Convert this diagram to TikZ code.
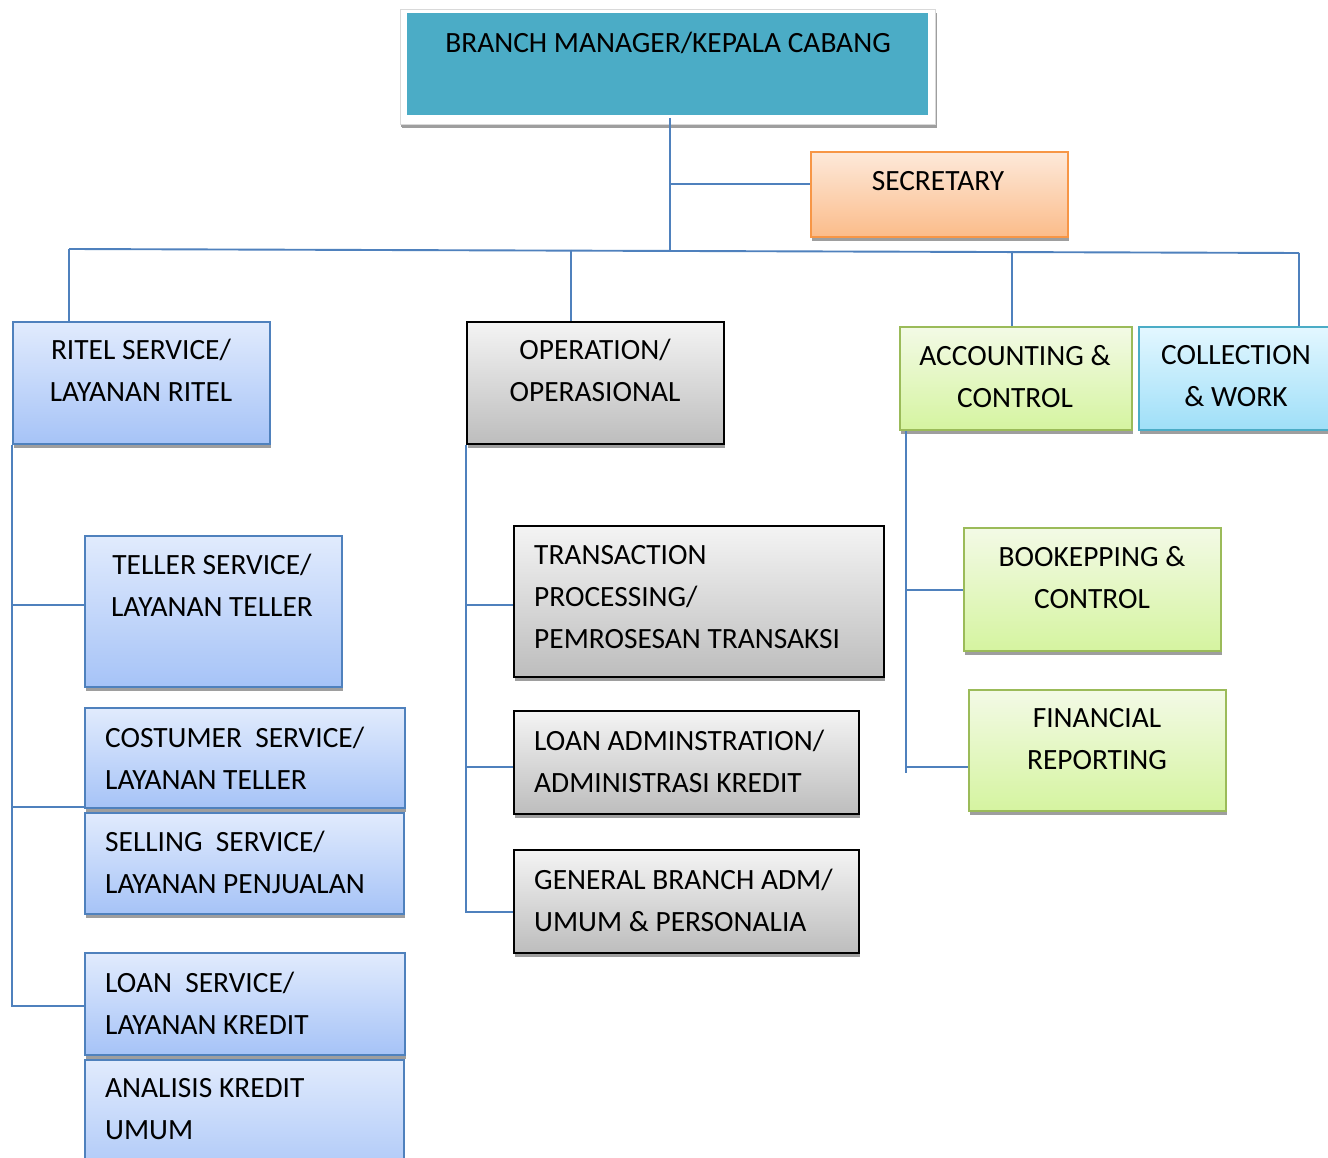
\documentclass[tikz,border=0pt]{standalone}
\usepackage{fontspec}
\setmainfont{Carlito}
\usetikzlibrary{shadows}
\definecolor{lineblue}{HTML}{4F81BD}
\definecolor{teal1}{HTML}{4BACC6}
\definecolor{blueTop}{HTML}{E1EBFD}
\definecolor{blueBot}{HTML}{A6C3F7}
\definecolor{blueBd}{HTML}{4F81BD}
\definecolor{grayTop}{HTML}{F4F4F4}
\definecolor{grayBot}{HTML}{BDBDBD}
\definecolor{greenTop}{HTML}{F3FAE6}
\definecolor{greenBot}{HTML}{D5F4A0}
\definecolor{greenBd}{HTML}{9BBB59}
\definecolor{cyanTop}{HTML}{E3F7FF}
\definecolor{cyanBot}{HTML}{9FDFF8}
\definecolor{cyanBd}{HTML}{4BACC6}
\definecolor{orTop}{HTML}{FDE9DA}
\definecolor{orBot}{HTML}{FBBC8A}
\definecolor{orBd}{HTML}{F79646}
\definecolor{shad}{HTML}{9E9E9E}
\tikzset{
  base/.style={rectangle, inner sep=0pt, anchor=north west, line width=1.6pt,
    general shadow={fill=shad, shadow xshift=1pt, shadow yshift=-4pt}},
  bluebox/.style={base, draw=blueBd, top color=blueTop, bottom color=blueBot},
  graybox/.style={base, draw=black, top color=grayTop, bottom color=grayBot},
  greenbox/.style={base, draw=greenBd, top color=greenTop, bottom color=greenBot},
  cyanbox/.style={base, draw=cyanBd, top color=cyanTop, bottom color=cyanBot},
  orbox/.style={base, draw=orBd, top color=orTop, bottom color=orBot},
  conn/.style={draw=lineblue, line width=1.9pt},
  txt/.style={inner sep=0pt, font=\fontsize{29.4}{42}\selectfont, align=center, anchor=north},
  ltxt/.style={inner sep=0pt, font=\fontsize{29.4}{42}\selectfont, align=left, anchor=north west},
}
\newcommand\bx[6]{\node[#1, minimum width=#4pt-#2pt, minimum height=#5pt-#3pt] (#6) at (#2,#3) {};}
\begin{document}
\begin{tikzpicture}[x=1pt,y=-1pt]
\clip (0,0) rectangle (1328,1158);
\fill[white] (0,0) rectangle (1328,1158);
% top
\node[base, draw=black!15, fill=white, line width=1pt, general shadow={fill=shad, shadow xshift=0pt, shadow yshift=-3pt},
  minimum width=535pt, minimum height=115pt] (bmframe) at (400,9) {};
\node[rectangle, inner sep=0pt, anchor=north west, fill=teal1, minimum width=521pt, minimum height=102pt] (bm) at (407,13) {};
\bx{orbox}{810}{151}{1067}{236}{sec}
% level 1
\bx{bluebox}{12}{321}{269}{443}{ritel}
\bx{graybox}{466}{321}{723}{443}{op}
\bx{greenbox}{899}{326}{1131}{429}{acc}
\bx{cyanbox}{1138}{326}{1340}{429}{col}
% blue column
\bx{bluebox}{84}{535}{341}{686}{teller}
\bx{bluebox}{84}{707}{404}{807}{cust}
\bx{bluebox}{84}{812}{403}{913}{sell}
\bx{bluebox}{84}{952}{404}{1054}{loans}
\bx{bluebox}{84}{1059}{403}{1190}{anal}
% gray column
\bx{graybox}{513}{525}{883}{676}{trans}
\bx{graybox}{513}{710}{858}{813}{ladm}
\bx{graybox}{513}{849}{858}{952}{gen}
% green column
\bx{greenbox}{963}{527}{1220}{650}{book}
\bx{greenbox}{968}{689}{1225}{810}{fin}
% texts
\node[txt] (bmT) at (668,32) {BRANCH MANAGER/KEPALA CABANG};
\node[txt] (secT) at (938,171) {SECRETARY};
\node[txt] (ritelT) at (141,339) {RITEL SERVICE/\\LAYANAN RITEL};
\node[txt] (opT) at (595,339) {OPERATION/\\OPERASIONAL};
\node[txt] (accT) at (1015,345) {ACCOUNTING \&\\CONTROL};
\node[txt] (colT) at (1236,345) {COLLECTION\\\& WORK};
\node[txt] (tellerT) at (212,554) {TELLER SERVICE/\\LAYANAN TELLER};
\node[ltxt] (custT) at (105,727) {COSTUMER\ \ SERVICE/\\LAYANAN TELLER};
\node[ltxt] (sellT) at (105,831) {SELLING\ \ SERVICE/\\LAYANAN PENJUALAN};
\node[ltxt] (loansT) at (105,972) {LOAN\ \ SERVICE/\\LAYANAN KREDIT};
\node[ltxt] (analT) at (105,1078) {ANALISIS KREDIT\\UMUM};
\node[ltxt] (transT) at (534,545) {TRANSACTION\\PROCESSING/\\PEMROSESAN TRANSAKSI};
\node[ltxt] (ladmT) at (534,730) {LOAN ADMINSTRATION/\\ADMINISTRASI KREDIT};
\node[ltxt] (genT) at (534,869) {GENERAL BRANCH ADM/\\UMUM \& PERSONALIA};
\node[txt] (bookT) at (1092,546) {BOOKEPPING \&\\CONTROL};
\node[txt] (finT) at (1097,708) {FINANCIAL\\REPORTING};
% junction coordinates
\coordinate (jv) at (670,118);
\coordinate (jsec) at (670,184);
\coordinate (jbus) at (670,251);
\coordinate (busL) at (69,249);
\coordinate (busR) at (1299,253);
\coordinate (bop) at (571,250);
\coordinate (bacc) at (1012,251);
\coordinate (lt1) at (12,605);
\coordinate (lt2) at (12,807);
\coordinate (lt3) at (12,1006);
\coordinate (ot1) at (466,605);
\coordinate (ot2) at (466,767);
\coordinate (ot3) at (466,912);
\coordinate (at1) at (906,590);
\coordinate (at2) at (906,767);
\coordinate (atEnd) at (906,773);
% connectors
\draw[conn] (jv) -- (jbus);
\draw[conn] (jsec) -- (sec.west |- jsec);
\draw[conn] (busL) -- (busR);
\draw[conn] (busL) -- (ritel.north -| busL);
\draw[conn] (bop) -- (op.north -| bop);
\draw[conn] (bacc) -- (acc.north -| bacc);
\draw[conn] (busR) -- (col.north -| busR);
\draw[conn] (ritel.south west) -- (lt3) -- (lt3 -| loans.west);
\draw[conn] (lt1) -- (lt1 -| teller.west);
\draw[conn] (lt2) -- (lt2 -| cust.west);
\draw[conn] (op.south west) -- (ot3) -- (ot3 -| gen.west);
\draw[conn] (ot1) -- (ot1 -| trans.west);
\draw[conn] (ot2) -- (ot2 -| ladm.west);
\draw[conn] (acc.south west -| atEnd) -- (atEnd);
\draw[conn] (at1) -- (at1 -| book.west);
\draw[conn] (at2) -- (at2 -| fin.west);
\end{tikzpicture}
\end{document}
